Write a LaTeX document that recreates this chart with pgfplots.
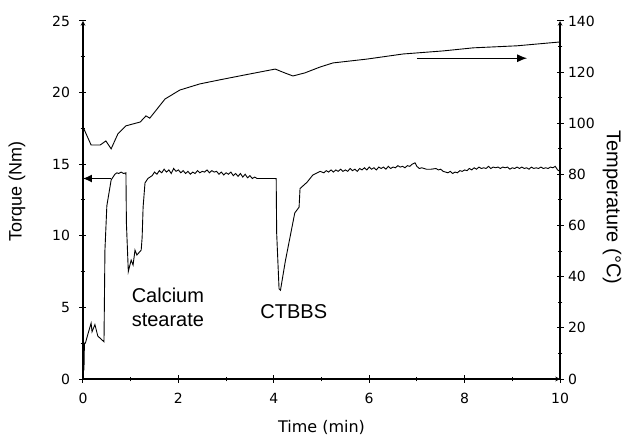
\documentclass[border=0pt]{standalone}
\usepackage{pgfplots}
\pgfplotsset{compat=1.18}
\usepackage{fontspec}
\setmainfont{Liberation Sans}
\newfontfamily\dejavu{DejaVu Sans}
\usetikzlibrary{arrows.meta}

\pgfplotstableread{
t T
0.02 0.6
0.03 2.5
0.05 2.5
0.10 3.1
0.17 3.9
0.19 3.3
0.25 3.8
0.31 3.0
0.44 2.6
0.46 9.0
0.50 12.1
0.59 13.9
0.67 14.3
0.71 14.4
0.75 14.35
0.80 14.45
0.85 14.35
0.90 14.4
0.91 10.9
0.95 7.5
1.01 8.3
1.05 7.96
1.09 9.0
1.13 8.66
1.22 9.0
1.24 9.9
1.26 12.0
1.30 13.7
1.36 14.0
1.45 14.2
1.50 14.45
1.55 14.30
1.60 14.55
1.65 14.40
1.70 14.65
1.75 14.45
1.80 14.60
1.85 14.35
1.90 14.70
1.95 14.50
2.00 14.60
2.05 14.40
2.10 14.55
2.15 14.35
2.20 14.50
2.25 14.30
2.30 14.45
2.35 14.35
2.40 14.55
2.45 14.40
2.50 14.50
2.55 14.45
2.60 14.60
2.65 14.40
2.70 14.55
2.75 14.45
2.80 14.50
2.85 14.30
2.90 14.45
2.95 14.25
3.00 14.40
3.05 14.30
3.10 14.45
3.15 14.20
3.20 14.35
3.25 14.15
3.30 14.35
3.35 14.10
3.40 14.30
3.45 14.05
3.50 14.20
3.55 14.00
3.60 14.10
3.65 14.00
3.70 14.00
4.05 14.00
4.06 10.2
4.11 6.3
4.14 6.2
4.24 8.2
4.34 9.9
4.44 11.6
4.53 12.0
4.55 13.3
4.70 13.75
4.82 14.25
4.97 14.5
5.05 14.4
5.10 14.55
5.15 14.45
5.20 14.6
5.25 14.45
5.30 14.6
5.35 14.5
5.40 14.65
5.45 14.5
5.50 14.6
5.55 14.5
5.60 14.7
5.65 14.55
5.70 14.65
5.75 14.5
5.80 14.7
5.85 14.6
5.90 14.75
5.95 14.6
6.00 14.8
6.05 14.65
6.10 14.75
6.15 14.6
6.20 14.8
6.25 14.7
6.30 14.8
6.35 14.65
6.40 14.85
6.45 14.7
6.50 14.8
6.55 14.75
6.60 14.9
6.65 14.8
6.70 14.85
6.75 14.75
6.80 14.9
6.85 14.85
6.90 15.0
6.96 15.1
7.00 14.85
7.05 14.7
7.10 14.75
7.20 14.65
7.30 14.65
7.40 14.7
7.45 14.6
7.50 14.65
7.55 14.5
7.60 14.45
7.65 14.4
7.70 14.5
7.75 14.35
7.80 14.45
7.85 14.4
7.90 14.55
7.95 14.5
8.00 14.6
8.05 14.55
8.10 14.7
8.15 14.6
8.20 14.75
8.25 14.65
8.30 14.8
8.35 14.7
8.40 14.75
8.45 14.7
8.50 14.85
8.55 14.7
8.60 14.8
8.65 14.75
8.70 14.8
8.75 14.7
8.80 14.8
8.85 14.75
8.90 14.8
8.95 14.65
9.00 14.75
9.05 14.7
9.10 14.8
9.15 14.7
9.20 14.8
9.25 14.7
9.30 14.75
9.35 14.65
9.40 14.8
9.45 14.7
9.50 14.75
9.55 14.7
9.60 14.8
9.65 14.7
9.70 14.75
9.75 14.7
9.80 14.8
9.85 14.75
9.90 14.85
9.95 14.6
10.0 14.5
}\torque

\pgfplotstableread{
t C
0.00 98.6
0.17 91.5
0.36 91.5
0.48 93.1
0.59 90.0
0.73 95.8
0.90 99.0
1.20 100.5
1.32 102.9
1.40 102.0
1.72 109.5
2.03 113.0
2.45 115.4
2.87 117.0
3.50 119.3
4.03 121.2
4.23 119.7
4.40 118.5
4.65 119.7
4.97 122.0
5.24 123.6
5.95 125.1
6.71 127.1
7.55 128.3
8.18 129.5
9.10 130.3
10.0 131.8
}\temp

\begin{document}
\begin{tikzpicture}
\useasboundingbox (-83bp,-57bp) rectangle (542bp,379bp);
\pgfplotsset{
  every axis/.append style={
    scale only axis, width=477bp, height=358bp,
    xmin=0, xmax=10,
    axis line style={-, line width=1.1bp},
    tick align=outside,
    major tick length=7bp, minor tick length=4.5bp,
    every tick/.append style={black, line width=1bp},
    ticklabel style={font=\dejavu\fontsize{14bp}{16bp}\selectfont},
    /pgf/number format/assume math mode=true,
    clip=false,
  },
}
\begin{axis}[
  axis x line=bottom, axis y line=left,
  ymin=0, ymax=25,
  xtick={0,2,...,10}, minor x tick num=1,
  ytick={0,5,...,25}, minor y tick num=1,
  xticklabel style={yshift=-7bp},
  yticklabel style={xshift=-6bp},
  xlabel={\dejavu\fontsize{16bp}{18bp}\selectfont Time (min)},
  xlabel style={at={(rel axis cs:0.5,-0.1495)}, anchor=base},
  ylabel={\fontsize{18bp}{20bp}\selectfont Torque (Nm)},
  ylabel style={at={(rel axis cs:-0.1384,0.5237)}, anchor=center},
]
\addplot[black, line width=0.9bp] table[x=t, y=T] {\torque};
\draw[black, line width=1bp, -{Latex[length=9bp,width=8bp]}] (axis cs:0.59,14.0) -- (axis cs:0.0,14.0);
\draw[black, line width=1bp, -{Latex[length=10bp,width=8bp]}] (axis cs:7.0,22.4) -- (axis cs:9.31,22.4);
\node[anchor=center, align=left, font=\fontsize{20bp}{24bp}\selectfont] at (axis cs:1.78,5.03) {Calcium\\stearate};
\node[anchor=center, font=\fontsize{20bp}{24bp}\selectfont] at (axis cs:4.42,4.71) {CTBBS};
\end{axis}
\begin{axis}[
  axis x line=none, axis y line=right,
  ymin=0, ymax=140,
  ytick={0,20,...,140}, minor y tick num=1,
  yticklabel style={xshift=1bp},
  ylabel={\fontsize{20bp}{22bp}\selectfont Temperature (°C)},
  ylabel style={at={(rel axis cs:1.109,0.479)}, anchor=center, rotate=180},
]
\addplot[black, line width=0.9bp] table[x=t, y=C] {\temp};
\end{axis}
\end{tikzpicture}
\end{document}
